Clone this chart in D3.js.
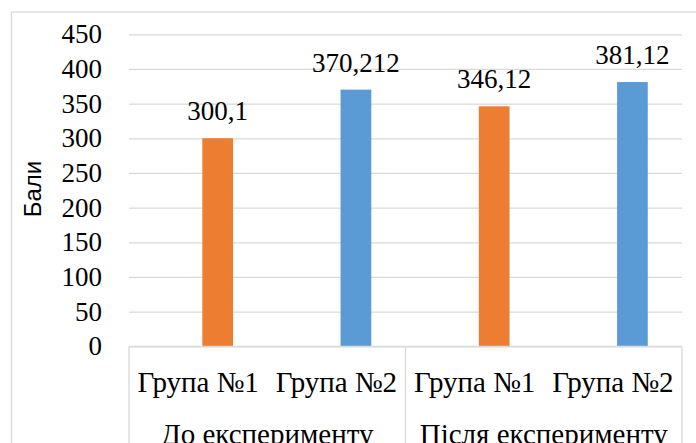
<!DOCTYPE html>
<html>
<head>
<meta charset="utf-8">
<script src="https://cdn.jsdelivr.net/npm/d3@7"></script>
<style>
  body { margin: 0; background: #fff; }
  svg { display: block; }
  text { font-family: "Liberation Serif", "Times New Roman", serif; fill: #000; }
</style>
</head>
<body>
<svg></svg>
<script>
var groupNames = ["До експерименту", "Після експерименту"];
var groupLabels = ["Група №1", "Група №2"];
var values = [300.1, 370.212, 346.12, 381.12];
var valueLabels = ["300,1", "370,212", "346,12", "381,12"];
var yTicks = [0, 50, 100, 150, 200, 250, 300, 350, 400, 450];
var barColors = ["#ED7D31", "#5B9BD5"];

var data = values.map(function(v, i) {
    return {
        key: i,
        group: groupNames[Math.floor(i / 2)],
        cat: groupLabels[i % 2],
        value: v,
        label: valueLabels[i]
    };
});

var svgWidth = 696;
var svgHeight = 443;
var plotLeft = 129, plotRight = 682, plotTop = 34.3, plotBottom = 346.3;
var gridColor = "#d9d9d9";
var serif = "'Liberation Serif', 'Times New Roman', serif";

var svg = d3.select("svg")
            .attr("width", svgWidth)
            .attr("height", svgHeight);

// chart frame (runs off the right and bottom of the picture)
svg.append("rect")
    .attr("x", 11.5)
    .attr("y", 12)
    .attr("width", 700)
    .attr("height", 460)
    .attr("fill", "none")
    .attr("stroke", gridColor)
    .attr("stroke-width", 1.3);

var x = d3.scaleBand()
            .domain(d3.range(data.length))
            .range([plotLeft, plotRight]);

// empty slot + bar slot inside each category
var x1 = d3.scaleBand()
            .domain(["empty", "bar"])
            .range([0, x.bandwidth()])
            .paddingInner(0.215)
            .paddingOuter(0.875);

var y = d3.scaleLinear()
            .domain([0, 450])
            .range([plotBottom, plotTop]);

var yAxis = svg.append("g")
    .attr("transform", "translate(" + plotLeft + ",0)")
    .call(d3.axisLeft(y)
        .tickValues(yTicks)
        .tickSize(-(plotRight - plotLeft))
        .tickPadding(27));
yAxis.select(".domain").remove();
yAxis.selectAll("line")
    .attr("stroke", gridColor)
    .attr("stroke-width", 1.3);
yAxis.selectAll("text")
    .style("font-family", serif)
    .style("font-size", "27px")
    .attr("fill", "#000");

svg.append("text")
    .attr("transform", "translate(33,189) rotate(-90)")
    .attr("text-anchor", "middle")
    .attr("dy", "0.35em")
    .style("font-family", "'Liberation Sans', Arial, sans-serif")
    .style("font-size", "24px")
    .text("Бали");

svg.selectAll(".bar")
    .data(data)
    .enter()
    .append("rect")
    .attr("class", "bar")
    .attr("x", function(d) { return x(d.key) + x1("bar"); })
    .attr("y", function(d) { return y(d.value); })
    .attr("width", x1.bandwidth())
    .attr("height", function(d) { return y(0) - y(d.value); })
    .attr("fill", function(d) { return barColors[d.key % 2]; });

svg.selectAll(".val")
    .data(data)
    .enter()
    .append("text")
    .attr("class", "val")
    .attr("x", function(d) { return x(d.key) + x1("bar") + x1.bandwidth() / 2; })
    .attr("y", function(d) { return y(d.value) - 18; })
    .attr("text-anchor", "middle")
    .style("font-family", serif)
    .style("font-size", "27px")
    .text(function(d) { return d.label; });

// category axis
svg.append("line")
    .attr("x1", plotLeft).attr("x2", plotRight)
    .attr("y1", plotBottom).attr("y2", plotBottom)
    .attr("stroke", gridColor)
    .attr("stroke-width", 1.3);

var sepX = [plotLeft].concat(groupNames.map(function(g, i) { return x(i * 2 + 1) + x.bandwidth(); }));
svg.selectAll(".sep")
    .data(sepX)
    .enter()
    .append("line")
    .attr("class", "sep")
    .attr("x1", function(d) { return d; })
    .attr("x2", function(d) { return d; })
    .attr("y1", plotBottom)
    .attr("y2", svgHeight + 5)
    .attr("stroke", gridColor)
    .attr("stroke-width", 1.3);

svg.selectAll(".cat")
    .data(data)
    .enter()
    .append("text")
    .attr("class", "cat")
    .attr("x", function(d) { return x(d.key) + x.bandwidth() / 2; })
    .attr("y", 391.5)
    .attr("text-anchor", "middle")
    .style("font-family", serif)
    .style("font-size", "29px")
    .text(function(d) { return d.cat; });

svg.selectAll(".grp")
    .data(groupNames)
    .enter()
    .append("text")
    .attr("class", "grp")
    .attr("x", function(d, i) { return x(i * 2) + x.bandwidth(); })
    .attr("y", 444)
    .attr("text-anchor", "middle")
    .style("font-family", serif)
    .style("font-size", "29px")
    .text(function(d) { return d; });
</script>
</body>
</html>
